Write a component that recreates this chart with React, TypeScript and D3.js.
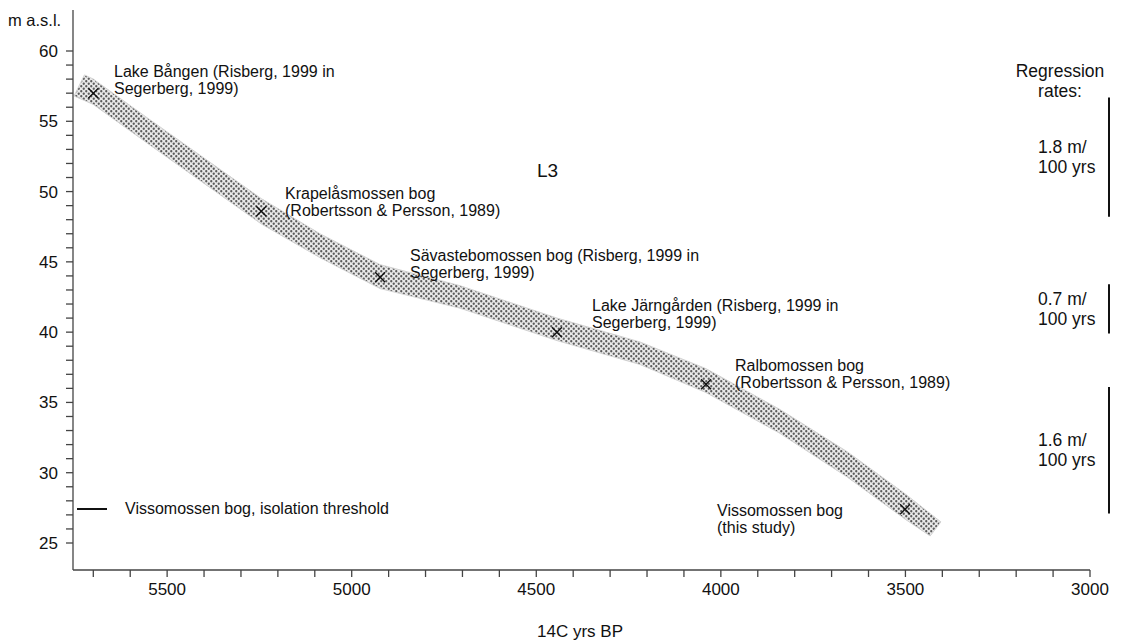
import React from "react";
import * as d3 from "d3";

// ---- data ----
const siteNames = [
  ["Lake Bången (Risberg, 1999 in", "Segerberg, 1999)"],
  ["Krapelåsmossen bog", "(Robertsson & Persson, 1989)"],
  ["Sävastebomossen bog (Risberg, 1999 in", "Segerberg, 1999)"],
  ["Lake Järngården (Risberg, 1999 in", "Segerberg, 1999)"],
  ["Ralbomossen bog", "(Robertsson & Persson, 1989)"],
  ["Vissomossen bog", "(this study)"],
];
const siteYears = [5700, 5245, 4923, 4444, 4040, 3501];
const siteLevels = [57.0, 48.6, 43.9, 40.0, 36.3, 27.4];

const upperYears = [5724, 5700, 5546, 5245, 5086, 4923, 4706, 4444, 4219, 4040, 3840, 3658, 3501, 3404];
const upperLevels = [58.3, 58.0, 55.1, 49.5, 47.0, 44.8, 43.3, 41.0, 39.3, 37.4, 34.5, 31.5, 28.5, 26.5];
const lowerYears = [5752, 5700, 5546, 5245, 5086, 4923, 4706, 4444, 4219, 4040, 3840, 3658, 3501, 3433];
const lowerLevels = [56.8, 56.2, 53.3, 47.7, 45.3, 43.1, 41.7, 39.4, 37.7, 35.7, 32.8, 29.7, 26.7, 25.5];

const rateLabels = ["1.8 m/", "0.7 m/", "1.6 m/"];
const rateTop = [56.7, 43.4, 36.1];
const rateBottom = [48.2, 39.9, 27.1];

const xTicks = [5500, 5000, 4500, 4000, 3500, 3000];
const yTicks = [25, 30, 35, 40, 45, 50, 55, 60];

// ---- layout ----
const W = 1144, H = 642;
const X0 = 73, X1 = 1090, Y0 = 570, Y1 = 10;

export default function App() {
  const x = d3.scaleLinear().domain([5755, 3000]).range([X0, X1]);
  const y = d3.scaleLinear().domain([60, 25]).range([51, 543]);

  const upper = upperYears.map((yr, i) => [x(yr), y(upperLevels[i])] as [number, number]);
  const lower = lowerYears.map((yr, i) => [x(yr), y(lowerLevels[i])] as [number, number]);
  const poly = upper.concat(lower.slice().reverse());
  const bandPath = d3.line().curve(d3.curveLinearClosed)(poly) || "";

  const minorX = d3.range(5700, 2999, -100);
  const minorY = d3.range(25, 61, 1);
  const font = "'Liberation Sans', Arial, Helvetica, sans-serif";

  const labelPos = [
    [114, 77],
    [285, 199],
    [410, 261],
    [592, 311],
    [735, 371],
    [717, 516],
  ];

  return (
    <svg width={W} height={H} style={{ position: "absolute", left: 0, top: 0, background: "#fff" }} fontFamily={font}>
      <defs>
        <pattern id="dots" patternUnits="userSpaceOnUse" width="5" height="5">
          <rect width="5" height="5" fill="#e9e9e9" />
          <circle cx="1.25" cy="1.25" r="1.15" fill="#5a5a5a" />
          <circle cx="3.75" cy="3.75" r="1.15" fill="#5a5a5a" />
        </pattern>
      </defs>

      {/* band */}
      <path d={bandPath} fill="url(#dots)" stroke="#d4d4d4" strokeWidth={1} />

      {/* axes */}
      <g stroke="#444" strokeWidth={1.3}>
        <line x1={X0} y1={Y1} x2={X0} y2={Y0} />
        <line x1={X0} y1={Y0} x2={X1} y2={Y0} />
        {minorY.map((v) => (
          <line key={"y" + v} x1={X0 - 7} x2={X0} y1={y(v)} y2={y(v)} />
        ))}
        {minorX.map((v) => (
          <line key={"x" + v} x1={x(v)} x2={x(v)} y1={Y0} y2={Y0 + 7} />
        ))}
      </g>
      <g fontSize={17} fill="#111">
        {yTicks.map((v) => (
          <text key={v} x={58} y={y(v) + 6} textAnchor="end">{v}</text>
        ))}
        {xTicks.map((v) => (
          <text key={v} x={x(v)} y={595} textAnchor="middle">{v}</text>
        ))}
        <text x={8} y={26} fontSize={16.5}>m a.s.l.</text>
        <text x={580} y={637} textAnchor="middle">14C yrs BP</text>
      </g>

      {/* markers */}
      <g stroke="#111" strokeWidth={1.4}>
        {siteYears.map((yr, i) => {
          const cx = x(yr), cy = y(siteLevels[i]);
          return (
            <g key={i}>
              <line x1={cx - 5} y1={cy - 5} x2={cx + 5} y2={cy + 5} />
              <line x1={cx - 5} y1={cy + 5} x2={cx + 5} y2={cy - 5} />
            </g>
          );
        })}
      </g>

      {/* site labels */}
      <g fontSize={16} fill="#111">
        {siteNames.map((lines, i) => (
          <text key={i} x={labelPos[i][0]} y={labelPos[i][1]}>
            <tspan x={labelPos[i][0]}>{lines[0]}</tspan>
            <tspan x={labelPos[i][0]} dy={17}>{lines[1]}</tspan>
          </text>
        ))}
        <text x={537} y={177} fontSize={19}>L3</text>
      </g>

      {/* legend */}
      <line x1={77} x2={107} y1={509} y2={509} stroke="#111" strokeWidth={2} />
      <text x={125} y={514} fontSize={16} fill="#111">Vissomossen bog, isolation threshold</text>

      {/* regression rates */}
      <g fontSize={17.5} fill="#111">
        <text x={1060} y={77} textAnchor="middle">Regression</text>
        <text x={1060} y={97} textAnchor="middle">rates:</text>
        {rateLabels.map((lab, i) => {
          const t = y(rateTop[i]), b = y(rateBottom[i]);
          const c = (t + b) / 2;
          return (
            <g key={i}>
              <line x1={1109} x2={1109} y1={t} y2={b} stroke="#111" strokeWidth={2} />
              <text x={1038} y={c - 4}>{lab}</text>
              <text x={1038} y={c + 16}>100 yrs</text>
            </g>
          );
        })}
      </g>
    </svg>
  );
}
